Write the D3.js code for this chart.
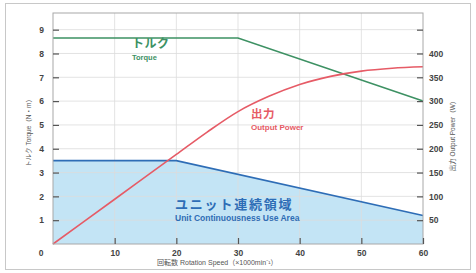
<!DOCTYPE html>
<html>
<head>
<meta charset="utf-8">
<script src="https://cdn.jsdelivr.net/npm/d3@7"></script>
<style>
  html, body { margin: 0; padding: 0; background: #fff; }
  svg { display: block; font-family: "Liberation Sans", "Noto Sans CJK JP", sans-serif; }
</style>
</head>
<body>
<script>
// Data
const speedTicks = [10, 20, 30, 40, 50, 60];
const torqueTicks = [1, 2, 3, 4, 5, 6, 7, 8, 9];
const powerTicks = [50, 100, 150, 200, 250, 300, 350, 400, 450];

// torque (N·m) vs rotation speed (x1000 min^-1)
const torqueSpeed = [0, 30, 60];
const torqueValue = [8.65, 8.65, 6.0];

// output power (W)
const powerSpeed = [0, 10, 20, 25, 30, 35, 40, 45, 50, 55, 60];
const powerValue = [0, 94, 188, 235, 278, 310, 335, 352, 363, 369, 372];

// unit continuous use area (torque limit, N·m)
const areaSpeed = [0, 20, 60];
const areaTorque = [3.5, 3.5, 1.2];

const width = 476, height = 273;
const margin = { top: 13, right: 53, bottom: 29, left: 53 };

const svg = d3.select("body").append("svg")
  .attr("width", width)
  .attr("height", height);

// outer frame
svg.append("rect")
  .attr("x", 5.5).attr("y", 3.5)
  .attr("width", 465).attr("height", 266)
  .attr("fill", "#fff")
  .attr("stroke", "#c8c8c8");

const x = d3.scaleLinear().domain([0, 60]).range([margin.left, width - margin.right]);
const y = d3.scaleLinear().domain([0, 9.7]).range([height - margin.bottom, margin.top]);
const yPow = d3.scaleLinear().domain([0, 485]).range([height - margin.bottom, margin.top]);

const green = "#3d9163", red = "#e65b66", blue = "#2e6db6", blueFill = "#c3e4f5";
const tickColor = "#555";

// blue area
const areaPts = areaSpeed.map((s, i) => [s, areaTorque[i]]);
svg.append("path")
  .datum(areaPts)
  .attr("fill", blueFill)
  .attr("d", d3.area().x(d => x(d[0])).y0(y(0)).y1(d => y(d[1])));

// grid
svg.append("g")
  .selectAll("line")
  .data(speedTicks.slice(0, -1))
  .join("line")
  .attr("x1", d => x(d)).attr("x2", d => x(d))
  .attr("y1", y.range()[1]).attr("y2", y.range()[0])
  .attr("stroke", "#dcdcdc").attr("stroke-width", 0.8);

svg.append("g")
  .selectAll("line")
  .data(torqueTicks)
  .join("line")
  .attr("x1", x.range()[0]).attr("x2", x.range()[1])
  .attr("y1", d => y(d)).attr("y2", d => y(d))
  .attr("stroke", "#dcdcdc").attr("stroke-width", 0.8);

// area edge line
svg.append("path")
  .datum(areaPts)
  .attr("fill", "none")
  .attr("stroke", blue)
  .attr("stroke-width", 1.6)
  .attr("d", d3.line().x(d => x(d[0])).y(d => y(d[1])));

// torque line
svg.append("path")
  .datum(torqueSpeed.map((s, i) => [s, torqueValue[i]]))
  .attr("fill", "none")
  .attr("stroke", green)
  .attr("stroke-width", 1.6)
  .attr("d", d3.line().x(d => x(d[0])).y(d => y(d[1])));

// power curve
svg.append("path")
  .datum(powerSpeed.map((s, i) => [s, powerValue[i]]))
  .attr("fill", "none")
  .attr("stroke", red)
  .attr("stroke-width", 1.6)
  .attr("d", d3.line().curve(d3.curveMonotoneX).x(d => x(d[0])).y(d => yPow(d[1])));

// plot frame
svg.append("rect")
  .attr("x", x.range()[0]).attr("y", y.range()[1])
  .attr("width", x.range()[1] - x.range()[0])
  .attr("height", y.range()[0] - y.range()[1])
  .attr("fill", "none")
  .attr("stroke", "#a8a8a8");

// axes (inward ticks)
const axisStyle = g => {
  g.select(".domain").remove();
  g.selectAll(".tick line").attr("stroke", tickColor).attr("stroke-width", 1.2);
  g.selectAll(".tick text")
    .attr("fill", "#444")
    .attr("font-size", 8.5)
    .attr("font-weight", "bold");
};

svg.append("g")
  .attr("transform", `translate(0,${y.range()[0]})`)
  .call(d3.axisBottom(x).tickValues(speedTicks).tickSize(-6).tickPadding(6))
  .call(axisStyle)
  .call(g => g.selectAll(".tick text").attr("dy", "0.71em"));

svg.append("g")
  .attr("transform", `translate(${x.range()[0]},0)`)
  .call(d3.axisLeft(y).tickValues(torqueTicks).tickSize(-6).tickPadding(9))
  .call(axisStyle);

svg.append("g")
  .attr("transform", `translate(${x.range()[1]},0)`)
  .call(d3.axisRight(yPow).tickValues(powerTicks).tickSize(-6).tickPadding(6)
    .tickFormat(d => d === 450 ? "" : d))
  .call(axisStyle);

// zero label at the corner
svg.append("text")
  .attr("x", x(0) - 12).attr("y", y(0) + 12)
  .attr("text-anchor", "middle")
  .attr("fill", "#444").attr("font-size", 8.5).attr("font-weight", "bold")
  .text("0");

// axis titles
svg.append("text")
  .attr("transform", `translate(31,${(y.range()[0] + y.range()[1]) / 2 + 3}) rotate(-90)`)
  .attr("text-anchor", "middle")
  .attr("fill", "#555").attr("font-size", 6.5)
  .text("トルク Torque（N・m）");

svg.append("text")
  .attr("transform", `translate(455,${(y.range()[0] + y.range()[1]) / 2 + 6}) rotate(-90)`)
  .attr("text-anchor", "middle")
  .attr("fill", "#555").attr("font-size", 6.5)
  .text("出力 Output Power（W）");

svg.append("text")
  .attr("x", 157).attr("y", 265)
  .attr("fill", "#555").attr("font-size", 7)
  .text("回転数 Rotation Speed（×1000min⁻¹）");

// series labels
const label = (tx, ty, color, jp, en, jpSize, enSize, gap, spacing) => {
  svg.append("text")
    .attr("x", tx).attr("y", ty)
    .attr("fill", color).attr("font-size", jpSize).attr("font-weight", "bold")
    .attr("font-family", "Noto Sans CJK JP")
    .attr("letter-spacing", spacing)
    .text(jp);
  svg.append("text")
    .attr("x", tx).attr("y", ty + gap)
    .attr("fill", color).attr("font-size", enSize).attr("font-weight", "bold")
    .text(en);
};
label(132, 48, green, "トルク", "Torque", 12, 7.5, 12, 0.5);
label(251, 118, red, "出力", "Output Power", 11.5, 8, 12, 0.5);
label(175, 209, blue, "ユニット連続領域", "Unit Continuousness Use Area", 13, 8.5, 12, 1.8);
</script>
</body>
</html>
